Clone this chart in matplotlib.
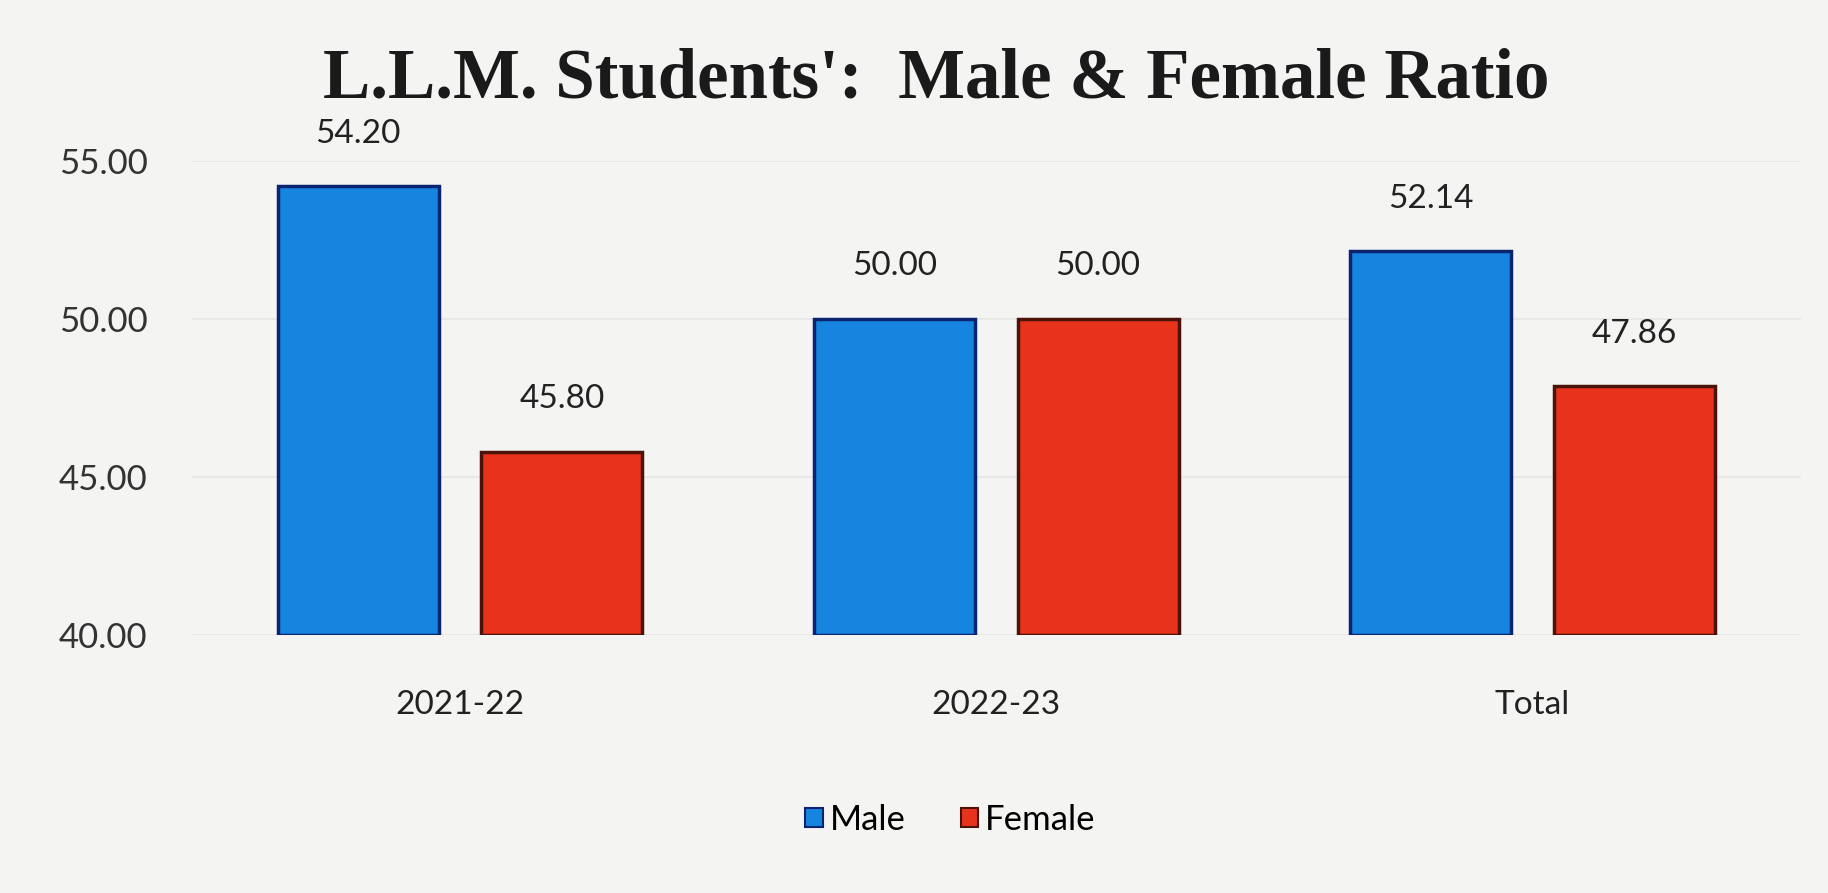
import numpy as np
import matplotlib.pyplot as plt
from matplotlib.patches import Patch

# ── DATA ────────────────────────────────────────────────────
categories = ['2021-22', '2022-23', 'Total']
male       = [54.20, 50.00, 52.14]
female     = [45.80, 50.00, 47.86]
y_ticks    = [40, 45, 50, 55]

BLUE, BLUE_EDGE = '#1685e0', '#0b2470'
RED,  RED_EDGE  = '#e8331c', '#4a1208'
BG = '#f4f5f3'

fig = plt.figure(figsize=(18.28, 8.93), dpi=100)
fig.patch.set_facecolor(BG)
ax = fig.add_axes([0.105, 0.289, 0.88, 0.531])
ax.set_facecolor(BG)

x = np.arange(len(categories))
w = 0.30
off = 0.19
ax.bar(x - off, [m - 40 for m in male], w, bottom=40, color=BLUE,
       edgecolor=BLUE_EDGE, linewidth=2.5, zorder=3)
ax.bar(x + off, [f - 40 for f in female], w, bottom=40, color=RED,
       edgecolor=RED_EDGE, linewidth=2.5, zorder=3)

# value labels above the bars
for xs, vals in [(x - off, male), (x + off, female)]:
    for xi, v in zip(xs, vals):
        ax.annotate(f'{v:.2f}', (xi, v), xytext=(0, 27), textcoords='offset points',
                    ha='center', va='bottom', fontsize=24, family='Lato', color='#222222')

ax.set_xlim(-0.5, len(categories) - 0.5)
ax.set_ylim(40, 55)
ax.set_yticks(y_ticks)
ax.set_yticklabels([f'{t:.2f}' for t in y_ticks], fontsize=25, family='Lato', color='#333333')
ax.set_xticks(x)
ax.set_xticklabels(categories, fontsize=24, family='Lato', color='#222222')
ax.tick_params(axis='y', length=0, pad=32)
ax.tick_params(axis='x', length=0, pad=40)
ax.grid(axis='y', color='#e6e7e5', linewidth=1.2, zorder=0)
for s in ax.spines.values():
    s.set_visible(False)

fig.text(0.512, 0.91, "L.L.M. Students':  Male & Female Ratio", ha='center', va='center',
         fontsize=51, fontweight='bold', family='Liberation Serif', color='#1a1a1a')

handles = [Patch(facecolor=BLUE, edgecolor=BLUE_EDGE, linewidth=1.5, label='Male'),
           Patch(facecolor=RED, edgecolor=RED_EDGE, linewidth=1.5, label='Female')]
fig.legend(handles=handles, loc='center', bbox_to_anchor=(0.52, 0.082), ncol=2,
           frameon=False, prop={'family': 'Lato', 'size': 25},
           handlelength=0.5, handleheight=0.5, handletextpad=0.2, columnspacing=1.6)

plt.savefig('out.png', dpi=100, facecolor=BG)
